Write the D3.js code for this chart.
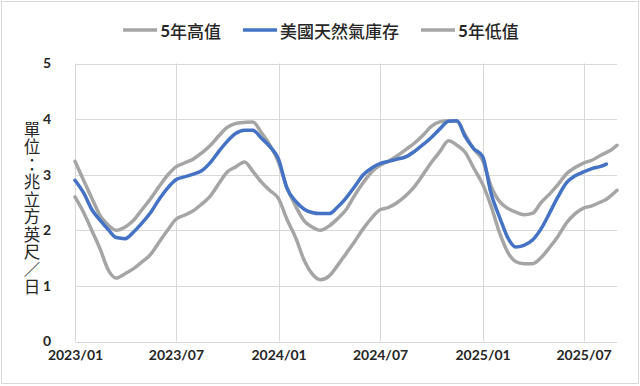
<!DOCTYPE html>
<html>
<head>
<meta charset="utf-8" />
<title>美國天然氣庫存</title>
<style>
html, body {
    padding: 0px;
    margin: 0px;
    background: #fff;
}
svg text {
    fill: #262626;
}
.tick-label {
    font-family: Lato, "Open Sans", sans-serif;
    font-weight: bold;
    font-size: 14px;
}
.cjk {
    font-family: "Noto Sans CJK TC", "Noto Sans", sans-serif;
}
.vtitle {
    writing-mode: vertical-rl;
    text-orientation: upright;
    letter-spacing: 1px;
}
</style>
</head>
<body>
<svg id="chart" width="640" height="386"></svg>

<script src="https://cdnjs.cloudflare.com/ajax/libs/d3/7.8.5/d3.min.js"></script>
<script>
// semi-monthly points (兆立方英尺/日)
var dates = [
    "2023-01-01","2023-01-16","2023-02-01","2023-02-16","2023-03-01","2023-03-16",
    "2023-04-01","2023-04-16","2023-05-01","2023-05-16","2023-06-01","2023-06-16",
    "2023-07-01","2023-07-16","2023-08-01","2023-08-16","2023-09-01","2023-09-16",
    "2023-10-01","2023-10-16","2023-11-01","2023-11-16","2023-12-01","2023-12-16",
    "2024-01-01","2024-01-16","2024-02-01","2024-02-16","2024-03-01","2024-03-16",
    "2024-04-01","2024-04-16","2024-05-01","2024-05-16","2024-06-01","2024-06-16",
    "2024-07-01","2024-07-16","2024-08-01","2024-08-16","2024-09-01","2024-09-16",
    "2024-10-01","2024-10-16","2024-11-01","2024-11-16","2024-12-01","2024-12-16",
    "2025-01-01","2025-01-16","2025-02-01","2025-02-16","2025-03-01","2025-03-16",
    "2025-04-01","2025-04-16","2025-05-01","2025-05-16","2025-06-01","2025-06-16",
    "2025-07-01","2025-07-16","2025-08-01","2025-08-11","2025-08-20","2025-08-30"
];

var high5y = [
    3.24, 2.91, 2.56, 2.25, 2.10, 2.00, 2.06, 2.18, 2.37, 2.56, 2.79, 2.99,
    3.14, 3.21, 3.28, 3.39, 3.53, 3.70, 3.85, 3.92, 3.94, 3.95, 3.76, 3.54,
    3.22, 2.77, 2.43, 2.17, 2.06, 2.00, 2.08, 2.21, 2.37, 2.62, 2.86, 3.05,
    3.17, 3.24, 3.34, 3.45, 3.57, 3.71, 3.87, 3.95, 3.97, 3.96, 3.71, 3.46,
    3.26, 2.80, 2.51, 2.39, 2.33, 2.28, 2.31, 2.50, 2.65, 2.82, 3.02, 3.13,
    3.21, 3.26, 3.35, 3.40, 3.45, 3.53
];

var storage = [
    2.90, 2.68, 2.36, 2.17, 2.02, 1.87, 1.85, 1.97, 2.13, 2.31, 2.56, 2.76,
    2.91, 2.96, 3.01, 3.07, 3.22, 3.42, 3.60, 3.74, 3.80, 3.80, 3.66, 3.51,
    3.28, 2.76, 2.52, 2.38, 2.32, 2.30, 2.30, 2.42, 2.58, 2.78, 3.00, 3.12,
    3.20, 3.24, 3.28, 3.32, 3.42, 3.54, 3.67, 3.82, 3.96, 3.97, 3.68, 3.47,
    3.33, 2.67, 2.22, 1.85, 1.70, 1.73, 1.83, 2.03, 2.31, 2.60, 2.86, 2.98,
    3.05, 3.11, 3.15, 3.19, null, null
];

var low5y = [
    2.60, 2.33, 1.98, 1.64, 1.30, 1.14, 1.22, 1.31, 1.43, 1.56, 1.79, 2.00,
    2.20, 2.27, 2.35, 2.47, 2.62, 2.84, 3.05, 3.14, 3.23, 3.06, 2.87, 2.72,
    2.57, 2.20, 1.86, 1.46, 1.22, 1.11, 1.18, 1.37, 1.58, 1.79, 2.03, 2.22,
    2.37, 2.41, 2.50, 2.62, 2.79, 3.00, 3.22, 3.41, 3.61, 3.53, 3.40, 3.12,
    2.83, 2.44, 1.94, 1.59, 1.44, 1.40, 1.40, 1.51, 1.69, 1.89, 2.14, 2.30,
    2.40, 2.44, 2.51, 2.56, 2.63, 2.72
];

var seriesNames = ["5年高值", "美國天然氣庫存", "5年低值"];
var seriesColors = ["#a5a5a5", "#4472c4", "#a5a5a5"];

var xTickDates = ["2023-01-01","2023-07-01","2024-01-01","2024-07-01","2025-01-01","2025-07-01"];
var xTickLabels = ["2023/01","2023/07","2024/01","2024/07","2025/01","2025/07"];
var yTicks = [0, 1, 2, 3, 4, 5];
var yTitle = "單位：兆立方英尺／日";

!(function(){
    "use strict"

    var W = 640, H = 386;
    var plot = {left: 75, right: 617, top: 63.5, bottom: 341.5};
    var parse = d3.utcParse("%Y-%m-%d");

    var svg = d3.select("#chart");

    // chart area border
    svg.append("rect")
        .attr("x", 1.5).attr("y", 1.5)
        .attr("width", W - 3).attr("height", H - 4)
        .attr("fill", "#fff")
        .attr("stroke", "#d9d9d9");

    var x = d3.scaleUtc()
        .domain([parse(dates[0]), parse(dates[dates.length - 1])])
        .range([plot.left, plot.right]);

    var y = d3.scaleLinear()
        .domain([0, 5])
        .range([plot.bottom, plot.top]);

    // gridlines
    var grid = svg.append("g").attr("stroke", "#d9d9d9").attr("stroke-width", 1);
    grid.selectAll("line.h")
        .data(yTicks)
        .enter()
        .append("line")
        .attr("x1", plot.left).attr("x2", plot.right)
        .attr("y1", function(d){ return Math.round(y(d)) + 0.5 })
        .attr("y2", function(d){ return Math.round(y(d)) + 0.5 });
    grid.selectAll("line.v")
        .data(xTickDates)
        .enter()
        .append("line")
        .attr("y1", plot.top).attr("y2", plot.bottom)
        .attr("x1", function(d){ return Math.round(x(parse(d))) + 0.5 })
        .attr("x2", function(d){ return Math.round(x(parse(d))) + 0.5 });

    // axes (labels only, lines are the grid)
    var yAxis = d3.axisLeft(y).tickValues(yTicks).tickSize(0).tickPadding(0).tickFormat(d3.format("d"));
    var gy = svg.append("g")
        .attr("transform", "translate(" + (plot.left - 24) + ",0)")
        .call(yAxis);
    gy.select(".domain").remove();
    gy.selectAll("text").attr("class", "tick-label").attr("fill", "#262626");

    var xAxis = d3.axisBottom(x)
        .tickValues(xTickDates.map(parse))
        .tickSize(0).tickPadding(0)
        .tickFormat(function(d, i){ return xTickLabels[i] });
    var gx = svg.append("g")
        .attr("transform", "translate(0," + (plot.bottom + 9) + ")")
        .call(xAxis);
    gx.select(".domain").remove();
    gx.selectAll("text").attr("class", "tick-label").attr("fill", "#262626");

    // vertical y title, upright characters
    svg.append("text")
        .attr("class", "cjk vtitle")
        .attr("x", 32)
        .attr("y", 121)
        .style("font-size", "16.5px")
        .text(yTitle);

    // lines
    var allSeries = [high5y, storage, low5y];
    var line = d3.line()
        .defined(function(d){ return d.v != null })
        .x(function(d){ return x(d.t) })
        .y(function(d){ return y(d.v) })
        .curve(d3.curveMonotoneX);

    var drawOrder = [0, 2, 1];
    svg.append("g")
        .selectAll("path")
        .data(drawOrder)
        .enter()
        .append("path")
        .attr("fill", "none")
        .attr("stroke", function(i){ return seriesColors[i] })
        .attr("stroke-width", 3.5)
        .attr("stroke-linejoin", "round")
        .attr("stroke-linecap", "round")
        .attr("d", function(i){
            return line(allSeries[i].map(function(v, k){ return {t: parse(dates[k]), v: v} }))
        });

    // legend: bold digit, CJK name
    var legend = svg.append("g");
    var items = legend.selectAll("g")
        .data(seriesNames)
        .enter()
        .append("g");
    items.append("line")
        .attr("x1", 0).attr("x2", 34)
        .attr("y1", 30).attr("y2", 30)
        .attr("stroke", function(d, i){ return seriesColors[i] })
        .attr("stroke-width", 3.5);
    var lt = items.append("text")
        .attr("class", "cjk")
        .attr("x", 37)
        .attr("y", 30)
        .attr("dominant-baseline", "central")
        .style("font-size", "17px")
        .style("font-weight", "500");
    lt.each(function(d){
        var t = d3.select(this);
        var m = d.match(/^(\d*)(.*)$/);
        if (m[1]) t.append("tspan").style("font-family", "Lato, sans-serif").style("font-weight", "bold").text(m[1]);
        t.append("tspan").text(m[2]);
    });

    var widths = [];
    items.each(function(){ widths.push(this.getBBox().width) });
    var gap = 22;
    var total = d3.sum(widths) + gap * (widths.length - 1);
    var cx = 117 + (525 - 117) / 2;
    var pos = cx - total / 2;
    items.attr("transform", function(d, i){
        var p = pos;
        pos += widths[i] + gap;
        return "translate(" + p + ",0)";
    });

}());
</script>
</body>
</html>
